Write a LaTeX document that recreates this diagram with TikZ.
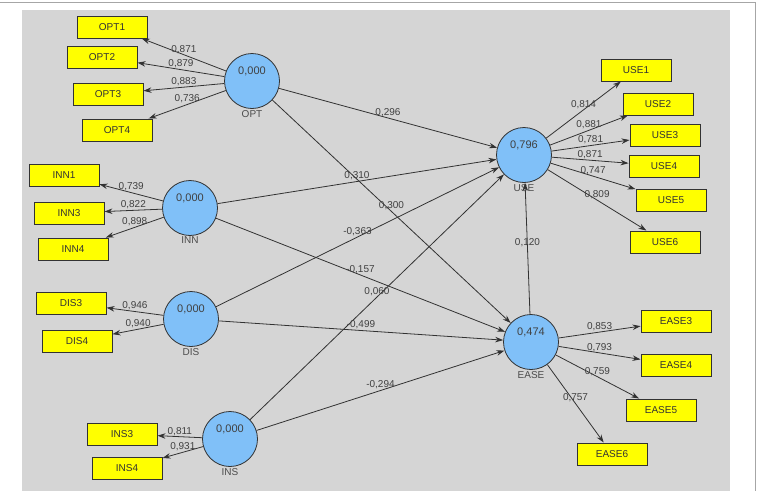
\documentclass[tikz,border=0pt]{standalone}
\usepackage{fontspec}
\setmainfont{Liberation Sans}
\usepackage{xcolor}
\usetikzlibrary{arrows.meta, positioning}
\definecolor{panelgray}{RGB}{213,213,213}
\definecolor{lvblue}{RGB}{128,192,248}
\definecolor{mvyellow}{RGB}{255,255,0}
\definecolor{pathgray}{RGB}{50,50,50}
\tikzset{
    >={Stealth[length=8pt, width=5.5pt]},               % Small filled arrow heads
    every edge/.style={draw=pathgray, line width=0.8pt, ->}, % All paths are directed
    construct/.style={circle, draw=pathgray, line width=0.8pt,
        fill=lvblue, minimum size=55pt, inner sep=0pt},   % Latent variables
    indicator/.style={rectangle, draw=pathgray, line width=1pt,
        fill=mvyellow, minimum width=70pt, minimum height=22pt,
        font=\fontsize{10}{12}\selectfont, text=black!80}, % Manifest variables
    valtext/.style={yshift=10pt, inner sep=0pt,
        font=\fontsize{11}{12}\selectfont, text=black!75}, % R-squared inside circle
    nametext/.style={inner sep=1pt,
        font=\fontsize{10}{12}\selectfont, text=black!70}, % Name under circle
    coef/.style={midway, above, inner sep=1pt,
        font=\fontsize{10}{12}\selectfont, text=black!75}  % Weights on paths
}

\begin{document}
\begin{tikzpicture}[x=1pt, y=-1pt]
    \useasboundingbox (0,0) rectangle (759,491);
    \fill[panelgray] (22,10) rectangle (730,491);
    \draw[gray!70, line width=0.6pt] (0,2) -- (755,2) -- (755,491);

    % latent variables
    \node[construct, label={[valtext]center:0,000}, label={[nametext]below:OPT}]  (opt)  at (252,81)  {};
    \node[construct, label={[valtext]center:0,000}, label={[nametext]below:INN}]  (inn)  at (190,208) {};
    \node[construct, label={[valtext]center:0,000}, label={[nametext]below:DIS}]  (dis)  at (191,319) {};
    \node[construct, label={[valtext]center:0,000}, label={[nametext]below:INS}]  (ins)  at (230,439) {};
    \node[construct, label={[valtext]center:0,796}, label={[nametext]below:USE}]  (use)  at (524,155) {};
    \node[construct, label={[valtext]center:0,474}, label={[nametext]below:EASE}] (ease) at (531,342) {};

    % indicators
    \node[indicator] (opt1) at (112,27)  {OPT1};
    \node[indicator] (opt2) at (102,57)  {OPT2};
    \node[indicator] (opt3) at (108,94)  {OPT3};
    \node[indicator] (opt4) at (117,130) {OPT4};
    \node[indicator] (inn1) at (64,175)  {INN1};
    \node[indicator] (inn3) at (69,213)  {INN3};
    \node[indicator] (inn4) at (73,249)  {INN4};
    \node[indicator] (dis3) at (71,303)  {DIS3};
    \node[indicator] (dis4) at (77,341)  {DIS4};
    \node[indicator] (ins3) at (122,434) {INS3};
    \node[indicator] (ins4) at (127,468) {INS4};
    \node[indicator] (use1) at (636,70)  {USE1};
    \node[indicator] (use2) at (658,104) {USE2};
    \node[indicator] (use3) at (665,135) {USE3};
    \node[indicator] (use4) at (664,166) {USE4};
    \node[indicator] (use5) at (671,200) {USE5};
    \node[indicator] (use6) at (665,242) {USE6};
    \node[indicator] (ease3) at (676,321) {EASE3};
    \node[indicator] (ease4) at (676,365) {EASE4};
    \node[indicator] (ease5) at (661,410) {EASE5};
    \node[indicator] (ease6) at (612,454) {EASE6};

    % outer model
    \draw   (opt) edge node[coef] {0,871} (opt1)
            (opt) edge node[coef] {0,879} (opt2)
            (opt) edge node[coef] {0,883} (opt3)
            (opt) edge node[coef] {0,736} (opt4)
            (inn) edge node[coef] {0,739} (inn1)
            (inn) edge node[coef] {0,822} (inn3)
            (inn) edge node[coef] {0,898} (inn4)
            (dis) edge node[coef] {0,946} (dis3)
            (dis) edge node[coef] {0,940} (dis4)
            (ins) edge node[coef] {0,811} (ins3)
            (ins) edge node[coef] {0,931} (ins4)
            (use) edge node[coef] {0,814} (use1)
            (use) edge node[coef] {0,881} (use2)
            (use) edge node[coef] {0,781} (use3)
            (use) edge node[coef] {0,871} (use4)
            (use) edge node[coef] {0,747} (use5)
            (use) edge node[coef] {0,809} (use6)
            (ease) edge node[coef] {0,853} (ease3)
            (ease) edge node[coef] {0,793} (ease4)
            (ease) edge node[coef] {0,759} (ease5)
            (ease) edge node[coef] {0,757} (ease6);

    % inner model
    \draw   (opt) edge node[coef] {0,296} (use)
            (inn) edge node[coef] {0,310} (use)
            (dis) edge node[coef] {-0,363} (use)
            (ins) edge node[coef] {0,060} (use)
            (opt) edge node[coef] {0,300} (ease)
            (inn) edge node[coef] {-0,157} (ease)
            (dis) edge node[coef] {-0,499} (ease)
            (ins) edge node[coef] {-0,294} (ease)
            (ease) edge node[coef] {0,120} (use);
\end{tikzpicture}
\end{document}
